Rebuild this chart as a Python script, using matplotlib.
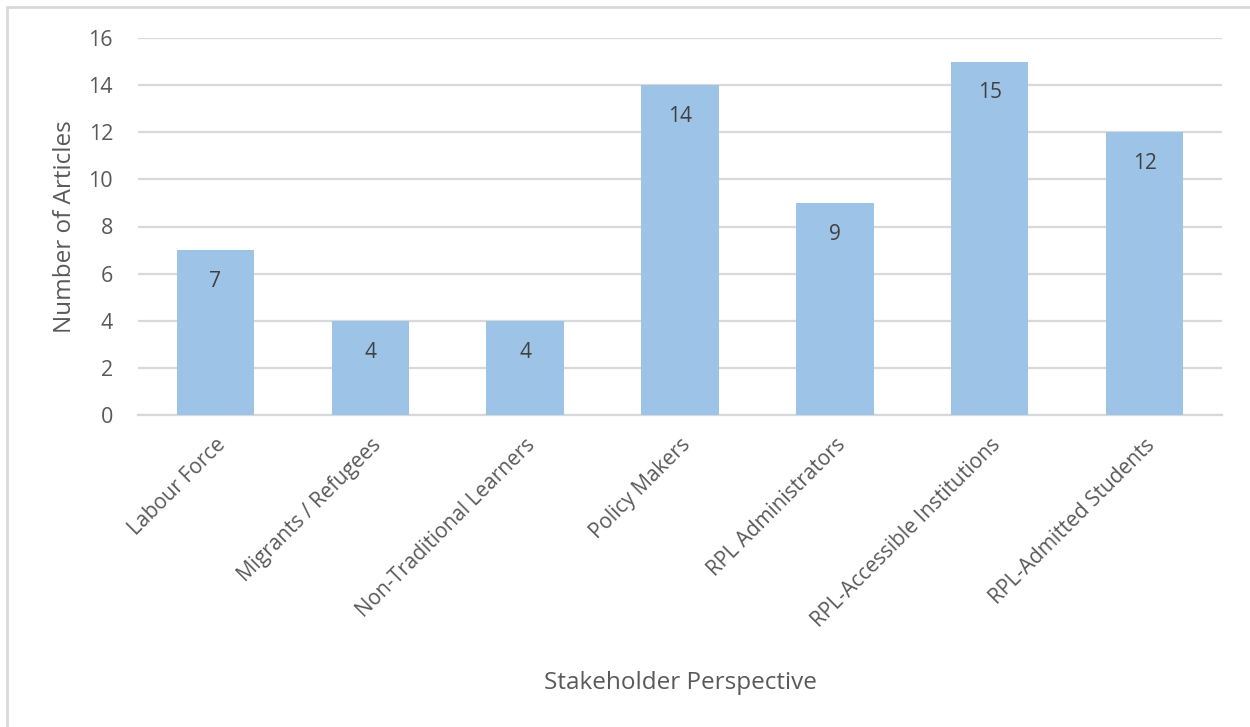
import matplotlib
matplotlib.use("Agg")
import matplotlib.pyplot as plt
from matplotlib.patches import Rectangle

categories = ["Labour Force", "Migrants / Refugees", "Non-Traditional Learners",
              "Policy Makers", "RPL Administrators", "RPL-Accessible Institutions",
              "RPL-Admitted Students"]
values = [7, 4, 4, 14, 9, 15, 12]
yticks = [0, 2, 4, 6, 8, 10, 12, 14, 16]

plt.rcParams['font.family'] = ['Open Sans', 'DejaVu Sans']
txt = '#595959'
grid = '#D9D9D9'

fig = plt.figure(figsize=(12.5, 7.27), dpi=100)
W, H = 1250, 727
ax = fig.add_axes([138 / W, 1 - 415 / H, (1222 - 138) / W, (415 - 38) / H])

x = list(range(len(categories)))
bars = ax.bar(x, values, width=0.5, color='#9DC3E6', zorder=3)
ax.set_xlim(-0.5, len(categories) - 0.5)
ax.set_ylim(0, 16)
ax.set_yticks(yticks)
ax.yaxis.grid(True, color=grid, linewidth=1.6, zorder=0)
for s in ['top', 'right', 'left']:
    ax.spines[s].set_visible(False)
ax.spines['bottom'].set_color(grid)
ax.spines['bottom'].set_linewidth(1.6)
ax.tick_params(axis='both', length=0, colors=txt)
ax.tick_params(axis='y', pad=18, labelsize=15.5)
ax.set_xticks(x)
ax.set_xticklabels(categories, rotation=45, ha='right', rotation_mode='anchor',
                   fontsize=15)
ax.tick_params(axis='x', pad=14)

for b, v in zip(bars, values):
    ax.annotate(str(v), (b.get_x() + b.get_width() / 2, v), xytext=(0, -15),
                textcoords='offset points', ha='center', va='top',
                fontsize=15, color='#404040', zorder=4)

ax.set_ylabel("Number of Articles", fontsize=17.5, color=txt, labelpad=8)
fig.text(680 / W, 1 - 683 / H, "Stakeholder Perspective", ha='center', va='center',
         fontsize=17.5, color=txt)

fig.patches.append(Rectangle((7 / W, -0.1), 1.2, 1 - 7 / H + 0.1,
                             transform=fig.transFigure, fill=False,
                             edgecolor=grid, linewidth=2))

fig.savefig("out.png", dpi=100)
